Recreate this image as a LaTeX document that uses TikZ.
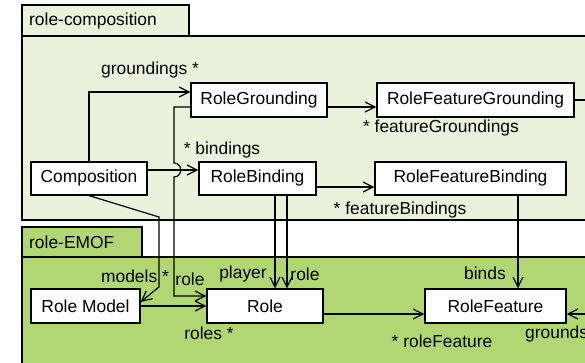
\documentclass[tikz,border=0pt]{standalone}
\usepackage{fontspec}
\setmainfont{Liberation Sans}
\usetikzlibrary{arrows.meta}
\definecolor{pkglight}{HTML}{E9F3DB}
\definecolor{pkgdark}{HTML}{B1D775}
\tikzset{
  classbox/.style={draw, fill=white, line width=1.2pt, inner sep=0pt, minimum height=34pt},
  pkgframe/.style={draw, line width=1.3pt},
  assoc/.style={line width=1.2pt, -{Straight Barb[length=10pt,width=10pt,line width=1.2pt]}},
  lbl/.style={inner sep=0pt},
}
\begin{document}
\begin{tikzpicture}[x=1pt,y=-1pt,font=\fontsize{17.4}{20}\selectfont]
\useasboundingbox (0,0) rectangle (585,363);
\clip (0,0) rectangle (585,363);
\fill[white] (0,0) rectangle (585,363);

% package role-composition
\draw[pkgframe, fill=pkglight] (22,5) rectangle (189,36);
\draw[pkgframe, fill=pkglight] (22,36) rectangle (600,220);
\node[lbl, anchor=west] (pkgA) at (29,21) {role-composition};

% package role-EMOF
\draw[pkgframe, fill=pkgdark] (22,227) rectangle (142,257);
\draw[pkgframe, fill=pkgdark] (22,257) rectangle (600,380);
\node[lbl, anchor=west] (pkgB) at (29,242) {role-EMOF};

% classes
\node[classbox, minimum width=136pt] (rg)  at (259,100)   {RoleGrounding};
\node[classbox, minimum width=197pt] (rfg) at (475.5,100) {RoleFeatureGrounding};
\node[classbox, minimum width=116pt, minimum height=33pt] (comp) at (89,178.5) {Composition};
\node[classbox, minimum width=117pt, minimum height=33pt] (rb)   at (257.5,178.5) {RoleBinding};
\node[classbox, minimum width=191pt, minimum height=33pt] (rfb)  at (470.5,178.5) {RoleFeatureBinding};
\node[classbox, minimum width=109pt] (rm) at (85.5,306) {Role Model};
\node[classbox, minimum width=116pt] (role) at (265,306) {Role};
\node[classbox, minimum width=141pt] (rf) at (495.5,306) {RoleFeature};

% helper points
\coordinate (hopA) at (174,163);
\coordinate (hopB) at (174,177);
\coordinate (eastTurn) at (600,100);

% associations
\draw[assoc] (comp.north) |- (rg.west |- 0,92);
\draw[assoc] (comp.east |- 0,170) -- (rb.west |- 0,170);
\draw[assoc] (rg.west |- 0,107) -- (174,107) -- (hopA)
  .. controls (183,163) and (183,177) .. (hopB) |- (role.west |- 0,296);
\draw[assoc] (comp.south) -- (159,217) -- (159,287) -- (rm.east |- 0,302);
\draw[assoc] (rm.east) -- (role.west);
\draw[assoc] (role.east |- 0,314) -- (rf.west |- 0,314);
\draw[assoc] (rg.east |- 0,107) -- (rfg.west |- 0,107);
\draw[assoc] (rb.east |- 0,187) -- (rfb.west |- 0,187);
\draw[assoc] (rb.south -| 275,0) -- (role.north -| 275,0);
\draw[assoc] (rb.south -| 287,0) -- (role.north -| 287,0);
\draw[assoc] (rfb.south -| 518,0) -- (rf.north -| 518,0);
\draw[assoc] (rfg.east) -- (eastTurn) |- (rf.east |- 0,314);

% role names
\node[lbl] (l1)  at (150,70)  {groundings *};
\node[lbl] (l2)  at (222,150) {* bindings};
\node[lbl] (l3)  at (441,128) {* featureGroundings};
\node[lbl] (l4)  at (400,210) {* featureBindings};
\node[lbl] (l5)  at (135,276) {models *};
\node[lbl] (l6)  at (190,279) {role};
\node[lbl] (l7)  at (243,274) {player};
\node[lbl] (l8)  at (305,274) {role};
\node[lbl] (l9)  at (209,333) {roles *};
\node[lbl] (l10) at (485,273) {binds};
\node[lbl] (l11) at (442,341) {* roleFeature};
\node[lbl, anchor=west] (l12) at (525,334) {grounds};
\end{tikzpicture}
\end{document}
